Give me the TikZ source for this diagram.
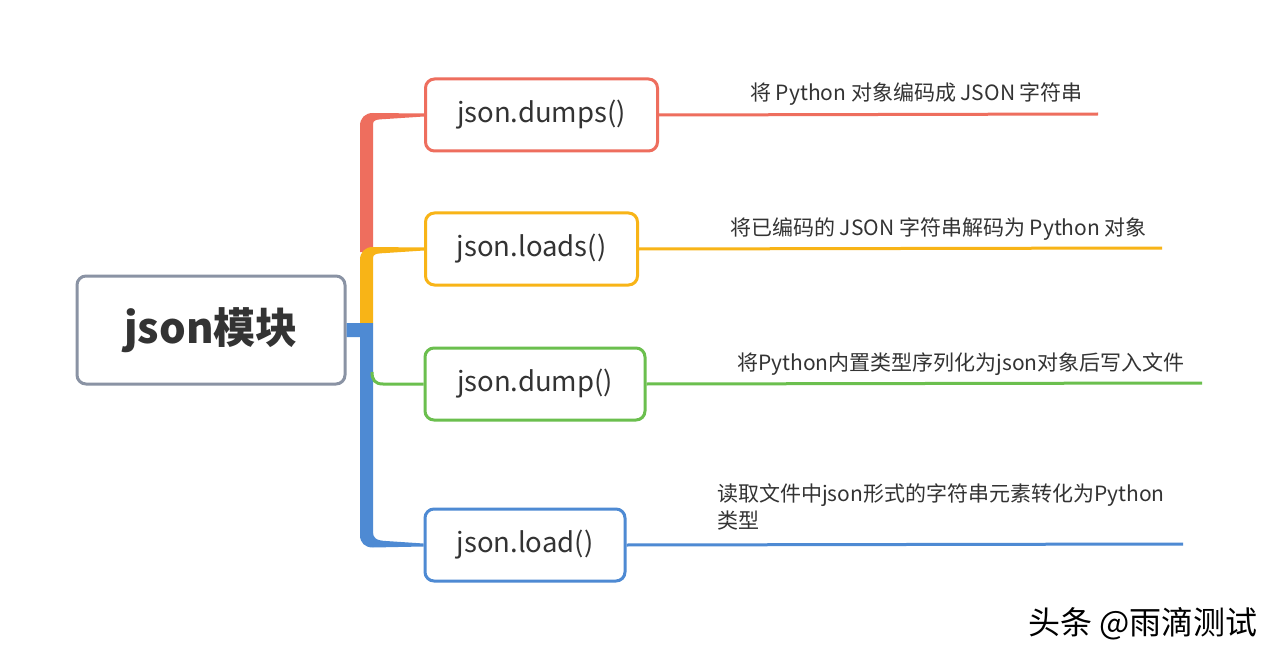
\documentclass[tikz,border=0pt]{standalone}
\usepackage{fontspec}
\setmainfont{Noto Sans CJK SC}
\usetikzlibrary{calc}

\definecolor{cred}{HTML}{EE6E5E}
\definecolor{cyellow}{HTML}{F8B417}
\definecolor{cgreen}{HTML}{6BBF4E}
\definecolor{cblue}{HTML}{4E8AD3}
\definecolor{cgray}{HTML}{8A93A4}
\definecolor{ctext}{HTML}{333333}

\begin{document}
\begin{tikzpicture}[x=1pt,y=-1pt,
  box/.style={draw,line width=3pt,rounded corners=9pt,minimum height=72pt,inner sep=0pt,fill=white,text=ctext,font=\fontsize{27.5}{31}\selectfont},
  note/.style={anchor=base west,inner sep=0pt,text=ctext,font=\fontsize{21}{27}\selectfont},
  leaf/.style={line width=3pt}]

    \useasboundingbox[fill=white] (0,0) rectangle (1278,658);

    % main topic and its four children
    \node[box,draw=cgray,minimum width=268pt,minimum height=108pt,font=\bfseries\fontsize{42}{48}\selectfont] (root) at (211,330) {json模块};

    \node[box,draw=cred,minimum width=232pt] (dumps) at (541.5,115) {json.dumps()};
    \node[box,draw=cyellow,minimum width=212pt] (loads) at (531.5,249) {json.loads()};
    \node[box,draw=cgreen,minimum width=220pt] (dump) at (535,384) {json.dump()};
    \node[box,draw=cblue,minimum width=200pt] (load) at (525,545) {json.load()};

    % trunk, widening towards the root
    \fill[cred] (360,252) -- (360,126) .. controls (360,118) and (365,113) .. (373,113)
      -- ($(dumps.west)+(0,-1.5)$) -- ($(dumps.west)+(0,1.5)$) -- (386,119)
      .. controls (376,119.5) and (373,120) .. (373,124) -- (373,252) -- cycle;

    \fill[cyellow] (360,323) -- (360,260) .. controls (360,252) and (365,247) .. (373,247)
      -- ($(loads.west)+(0,-1.5)$) -- ($(loads.west)+(0,1.5)$) -- (386,253)
      .. controls (376,253.5) and (373,254) .. (373,258) -- (373,323) -- cycle;

    \fill[cblue] ($(root.east)+(0,-7)$) -- (373,323) -- (373,532)
      .. controls (373,538) and (376,540.5) .. (386,541)
      -- ($(load.west)+(0,-1.5)$) -- ($(load.west)+(0,1.5)$) -- (373,547.5)
      .. controls (365,547.5) and (360,543) .. (360,535) -- (360,337) -- ($(root.east)+(0,7)$) -- cycle;

    \draw[leaf,cgreen] (372,372) .. controls (372,380) and (375,384) .. (383,384) -- (dump.west);

    % descriptions
    \coordinate (dumpsend) at (1098,114);
    \coordinate (loadsend) at (1162,248);
    \coordinate (dumpend) at (1202,383);
    \coordinate (loadend) at (1183,544);

    \draw[leaf,cred] (dumps.east) -- (dumpsend);
    \draw[leaf,cyellow] (loads.east) -- (loadsend);
    \draw[leaf,cgreen] (dump.east) -- (dumpend);
    \draw[leaf,cblue] (load.east) -- (loadend);

    \node[note] (dumpsnote) at (750,101) {将 Python 对象编码成 JSON 字符串};
    \node[note] (loadsnote) at (730,235) {将已编码的 JSON 字符串解码为 Python 对象};
    \node[note] (dumpnote) at (737,370) {将Python内置类型序列化为json对象后写入文件};
    \node[note,anchor=north west,align=left] (loadnote) at (717,484) {读取文件中json形式的字符串元素转化为Python\\类型};

    \node[anchor=base east,inner sep=0pt,font=\fontsize{32}{36}\selectfont] (mark) at (1258,634) {头条 @雨滴测试};

  \end{tikzpicture}
\end{document}
